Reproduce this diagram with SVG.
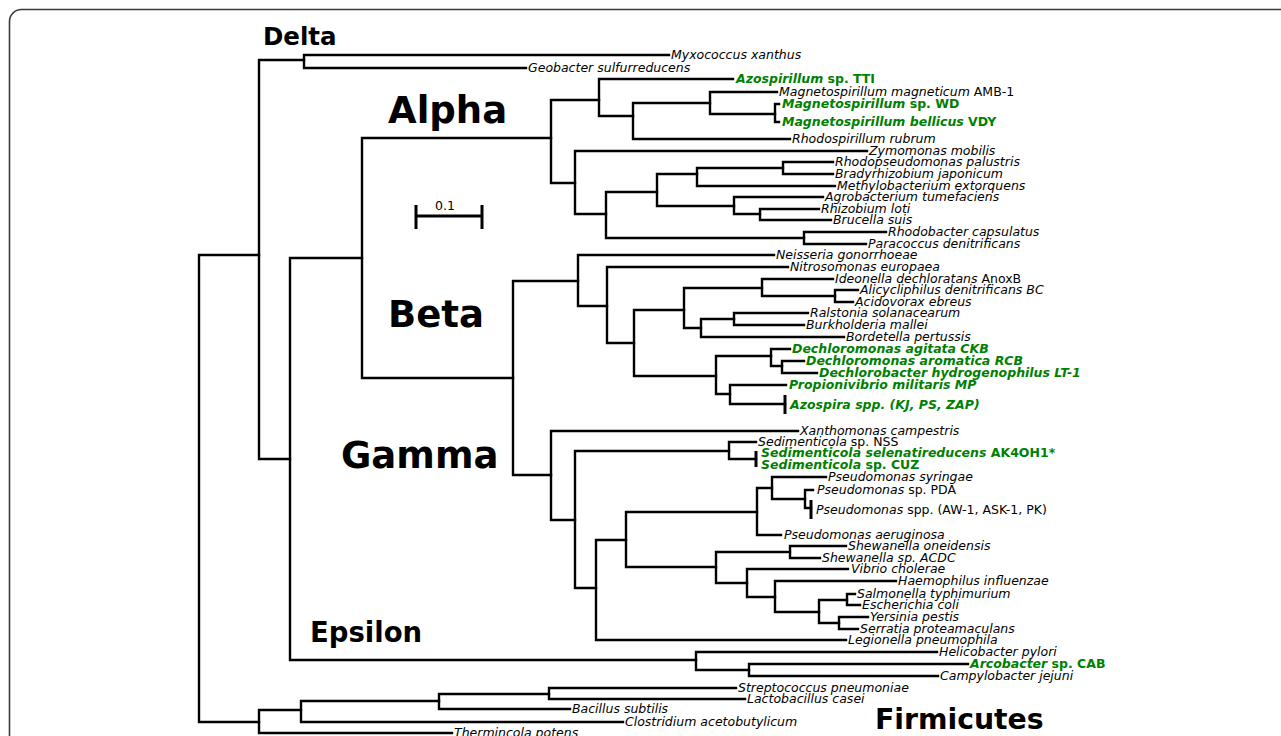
<svg xmlns="http://www.w3.org/2000/svg" width="1281" height="736" viewBox="0 0 1281 736">
<style>
.br{stroke:#000;stroke-width:2.4;fill:none;stroke-linecap:square;stroke-linejoin:miter}
.bar{stroke:#000;stroke-width:3;fill:none}
text{font-family:"DejaVu Sans","Liberation Sans",sans-serif}
.l{font-size:12.5px;font-style:italic;fill:#000}
.gr{fill:#008000;font-weight:bold}
.up{font-style:normal}
.cl{font-weight:bold;fill:#000}
</style>
<rect x="9.5" y="9.5" width="1300" height="760" rx="12" fill="#fff" stroke="#3a3a3a" stroke-width="1.6"/>
<g id="connectors">
<path class="br" d="M259 255 H199 V722 H259"/>
<path class="br" d="M304 60 H259 V459 H290"/>
<path class="br" d="M669 55 H304 V68 H526"/>
<path class="br" d="M362 258 H290 V660 H696"/>
<path class="br" d="M551 138 H362 V378 H513"/>
<path class="br" d="M599 100 H551 V183 H575"/>
<path class="br" d="M733 79 H599 V116 H633"/>
<path class="br" d="M710 103 H633 V139 H790"/>
<path class="br" d="M777 92 H710 V114 H775"/>
<path class="br" d="M779 104 H775 V122 H779"/>
<path class="br" d="M867 151 H575 V214 H606"/>
<path class="br" d="M657 192 H606 V238 H804"/>
<path class="br" d="M697 174 H657 V206 H734"/>
<path class="br" d="M783 168 H697 V186 H835"/>
<path class="br" d="M833 162 H783 V174 H833"/>
<path class="br" d="M823 197 H734 V214 H760"/>
<path class="br" d="M819 209 H760 V220 H831"/>
<path class="br" d="M886 232 H804 V244 H866"/>
<path class="br" d="M578 281 H513 V475 H551"/>
<path class="br" d="M774 255 H578 V306 H607"/>
<path class="br" d="M788 267 H607 V343 H634"/>
<path class="br" d="M684 310 H634 V376 H716"/>
<path class="br" d="M762 288 H684 V328 H701"/>
<path class="br" d="M833 279 H762 V296 H835"/>
<path class="br" d="M858 290 H835 V302 H853"/>
<path class="br" d="M734 319 H701 V337 H844"/>
<path class="br" d="M808 313 H734 V325 H804"/>
<path class="br" d="M771 356 H716 V394 H730"/>
<path class="br" d="M790 349 H771 V366 H782"/>
<path class="br" d="M804 361 H782 V373 H817"/>
<path class="br" d="M786 385 H730 V404 H785"/>
<path class="bar" d="M785 395 V414"/>
<path class="br" d="M798 431 H551 V520 H575"/>
<path class="br" d="M729 451 H575 V588 H596"/>
<path class="br" d="M756 442 H729 V459 H756"/>
<path class="bar" d="M756 451 V467"/>
<path class="br" d="M626 540 H596 V640 H846"/>
<path class="br" d="M757 512 H626 V567 H716"/>
<path class="br" d="M772 488 H757 V535 H781"/>
<path class="br" d="M826 477 H772 V499 H805"/>
<path class="br" d="M813 490 H805 V508 H811"/>
<path class="bar" d="M811 500 V519"/>
<path class="br" d="M790 552 H716 V583 H747"/>
<path class="br" d="M846 546 H790 V558 H820"/>
<path class="br" d="M848 569 H747 V597 H775"/>
<path class="br" d="M896 581 H775 V612 H819"/>
<path class="br" d="M847 600 H819 V623 H839"/>
<path class="br" d="M855 594 H847 V605 H860"/>
<path class="br" d="M868 617 H839 V629 H858"/>
<path class="br" d="M937 652 H696 V670 H749"/>
<path class="br" d="M968 664 H749 V676 H938"/>
<path class="br" d="M301 710 H259 V733 H452"/>
<path class="br" d="M439 701 H301 V722 H623"/>
<path class="br" d="M549 694 H439 V709 H570"/>
<path class="br" d="M736 688 H549 V699 H745"/>
</g>
<g id="scale-bar">
<path class="bar" d="M416 216 H482 M416 205 V229 M482 205 V229"/>
<text x="445" y="210" font-size="12.5" text-anchor="middle">0.1</text>
</g>
<g id="clade-labels">
<text id="delta" class="cl" x="263" y="45" font-size="24.5">Delta</text>
<text id="alpha" class="cl" x="388" y="123" font-size="37">Alpha</text>
<text id="beta" class="cl" x="388" y="327" font-size="37">Beta</text>
<text id="gamma" class="cl" x="341" y="468" font-size="37">Gamma</text>
<text id="epsilon" class="cl" x="310" y="642" font-size="27.5">Epsilon</text>
<text id="firmicutes" class="cl" x="875" y="729" font-size="28.3">Firmicutes</text>
</g>
<g id="leaves">
<g id="n1"><text class="l" x="671" y="59">Myxococcus xanthus</text></g>
<g id="n2"><text class="l" x="528" y="72">Geobacter sulfurreducens</text></g>
<g id="n3"><text class="l gr" x="736" y="83">Azospirillum <tspan class="up">sp. TTI</tspan></text></g>
<g id="n4"><text class="l" x="779" y="96">Magnetospirillum magneticum <tspan class="up">AMB-1</tspan></text></g>
<g id="n5"><text class="l gr" x="782" y="108">Magnetospirillum <tspan class="up">sp. WD</tspan></text></g>
<g id="n6"><text class="l gr" x="782" y="126">Magnetospirillum bellicus <tspan class="up">VDY</tspan></text></g>
<g id="n7"><text class="l" x="792" y="143">Rhodospirillum rubrum</text></g>
<g id="n8"><text class="l" x="869" y="155">Zymomonas mobilis</text></g>
<g id="n9"><text class="l" x="835" y="166">Rhodopseudomonas palustris</text></g>
<g id="n10"><text class="l" x="835" y="178">Bradyrhizobium japonicum</text></g>
<g id="n11"><text class="l" x="837" y="190">Methylobacterium extorquens</text></g>
<g id="n12"><text class="l" x="825" y="201">Agrobacterium tumefaciens</text></g>
<g id="n13"><text class="l" x="821" y="213">Rhizobium loti</text></g>
<g id="n14"><text class="l" x="833" y="224">Brucella suis</text></g>
<g id="n15"><text class="l" x="888" y="236">Rhodobacter capsulatus</text></g>
<g id="n16"><text class="l" x="868" y="248">Paracoccus denitrificans</text></g>
<g id="n17"><text class="l" x="776" y="259">Neisseria gonorrhoeae</text></g>
<g id="n18"><text class="l" x="790" y="271">Nitrosomonas europaea</text></g>
<g id="n19"><text class="l" x="835" y="283">Ideonella dechloratans <tspan class="up">AnoxB</tspan></text></g>
<g id="n20"><text class="l" x="860" y="294">Alicycliphilus denitrificans BC</text></g>
<g id="n21"><text class="l" x="855" y="306">Acidovorax ebreus</text></g>
<g id="n22"><text class="l" x="810" y="317">Ralstonia solanacearum</text></g>
<g id="n23"><text class="l" x="806" y="329">Burkholderia mallei</text></g>
<g id="n24"><text class="l" x="846" y="341">Bordetella pertussis</text></g>
<g id="n25"><text class="l gr" x="792" y="353">Dechloromonas agitata CKB</text></g>
<g id="n26"><text class="l gr" x="806" y="365">Dechloromonas aromatica RCB</text></g>
<g id="n27"><text class="l gr" x="819" y="377">Dechlorobacter hydrogenophilus LT-1</text></g>
<g id="n28"><text class="l gr" x="789" y="389">Propionivibrio militaris MP</text></g>
<g id="n29"><text class="l gr" x="790" y="409">Azospira spp. (KJ, PS, ZAP)</text></g>
<g id="n30"><text class="l" x="800" y="435">Xanthomonas campestris</text></g>
<g id="n31"><text class="l" x="758" y="446">Sedimenticola <tspan class="up">sp. NSS</tspan></text></g>
<g id="n32"><text class="l gr" x="761" y="457">Sedimenticola selenatireducens <tspan class="up">AK4OH1*</tspan></text></g>
<g id="n33"><text class="l gr" x="761" y="469">Sedimenticola <tspan class="up">sp. CUZ</tspan></text></g>
<g id="n34"><text class="l" x="828" y="481">Pseudomonas syringae</text></g>
<g id="n35"><text class="l" x="817" y="494">Pseudomonas <tspan class="up">sp. PDA</tspan></text></g>
<g id="n36"><text class="l" x="816" y="514">Pseudomonas <tspan class="up">spp. (AW-1, ASK-1, PK)</tspan></text></g>
<g id="n37"><text class="l" x="784" y="539">Pseudomonas aeruginosa</text></g>
<g id="n38"><text class="l" x="848" y="550">Shewanella oneidensis</text></g>
<g id="n39"><text class="l" x="822" y="562">Shewanella sp. ACDC</text></g>
<g id="n40"><text class="l" x="851" y="573">Vibrio cholerae</text></g>
<g id="n41"><text class="l" x="898" y="585">Haemophilus influenzae</text></g>
<g id="n42"><text class="l" x="857" y="598">Salmonella typhimurium</text></g>
<g id="n43"><text class="l" x="862" y="609">Escherichia coli</text></g>
<g id="n44"><text class="l" x="870" y="621">Yersinia pestis</text></g>
<g id="n45"><text class="l" x="860" y="633">Serratia proteamaculans</text></g>
<g id="n46"><text class="l" x="848" y="644">Legionella pneumophila</text></g>
<g id="n47"><text class="l" x="939" y="656">Helicobacter pylori</text></g>
<g id="n48"><text class="l gr" x="970" y="668">Arcobacter <tspan class="up">sp. CAB</tspan></text></g>
<g id="n49"><text class="l" x="940" y="680">Campylobacter jejuni</text></g>
<g id="n50"><text class="l" x="738" y="692">Streptococcus pneumoniae</text></g>
<g id="n51"><text class="l" x="747" y="703">Lactobacillus casei</text></g>
<g id="n52"><text class="l" x="572" y="713">Bacillus subtilis</text></g>
<g id="n53"><text class="l" x="625" y="726">Clostridium acetobutylicum</text></g>
<g id="n54"><text class="l" x="454" y="737">Thermincola potens</text></g>
</g>
</svg>
